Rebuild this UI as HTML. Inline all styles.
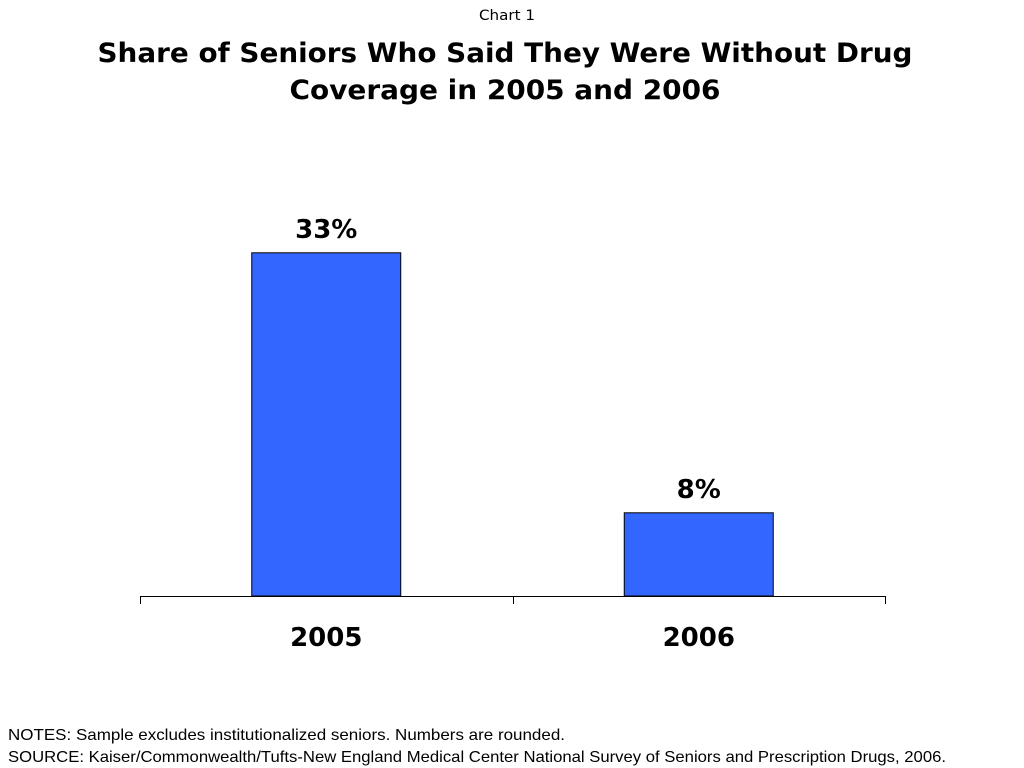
<!DOCTYPE html>
<html><head><meta charset="utf-8"><style>
html,body{margin:0;padding:0;background:#fff;}
svg{display:block;}
</style></head><body>
<svg id="chart" width="1024" height="768" viewBox="0 0 1024 768">
<text x="507" y="20" text-anchor="middle" font-family="DejaVu Sans, sans-serif" font-size="14" textLength="56" lengthAdjust="spacingAndGlyphs">Chart 1</text>
<text x="505" y="62" text-anchor="middle" font-family="DejaVu Sans, sans-serif" font-weight="bold" font-size="27" textLength="815" lengthAdjust="spacingAndGlyphs">Share of Seniors Who Said They Were Without Drug</text>
<text x="505" y="99" text-anchor="middle" font-family="DejaVu Sans, sans-serif" font-weight="bold" font-size="27" textLength="431" lengthAdjust="spacingAndGlyphs">Coverage in 2005 and 2006</text>
<g id="plot"></g>
<text x="8" y="740" font-family="Liberation Sans, sans-serif" font-size="16" textLength="557" lengthAdjust="spacingAndGlyphs">NOTES: Sample excludes institutionalized seniors. Numbers are rounded.</text>
<text x="8" y="762" font-family="Liberation Sans, sans-serif" font-size="16" textLength="938" lengthAdjust="spacingAndGlyphs">SOURCE: Kaiser/Commonwealth/Tufts-New England Medical Center National Survey of Seniors and Prescription Drugs, 2006.</text>
</svg>
<script>
const categories = ["2005", "2006"];
const values = [33, 8];
const valueLabels = ["33%", "8%"];

const NS = "http://www.w3.org/2000/svg";
const g = document.getElementById("plot");
const x0 = 140, x1 = 885, baseY = 596, pxPerUnit = 10.4, barW = 150;
const band = (x1 - x0) / categories.length;
const xCenter = i => x0 + band * (i + 0.5);
const yScale = v => baseY - v * pxPerUnit;
function mk(tag, attrs){const e=document.createElementNS(NS,tag);for(const k in attrs)e.setAttribute(k,attrs[k]);g.appendChild(e);return e;}

categories.forEach((c,i)=>{
  const cx = xCenter(i), top = yScale(values[i]);
  const r = mk("rect",{x:cx-barW/2+0.5,y:top,width:barW-1,height:baseY-top,fill:"#3366ff",stroke:"#000","stroke-width":1});
  
  
  const t = mk("text",{x:cx,y:top-15,"text-anchor":"middle","font-family":"DejaVu Sans, sans-serif","font-weight":"bold","font-size":26});
  t.textContent = valueLabels[i];
  
  
  const l = mk("text",{x:cx,y:646,"text-anchor":"middle","font-family":"DejaVu Sans, sans-serif","font-weight":"bold","font-size":26});
  l.textContent = c;
  
  
});
const ax = mk("line",{x1:x0,y1:baseY+0.5,x2:x1,y2:baseY+0.5,stroke:"#000","stroke-width":1});


for(let i=0;i<=categories.length;i++){
  const x = Math.round(x0 + band*i)+0.5;
  const tk = mk("line",{x1:x,y1:baseY,x2:x,y2:baseY+8,stroke:"#000","stroke-width":1});
  
  
}
</script>
</body></html>
